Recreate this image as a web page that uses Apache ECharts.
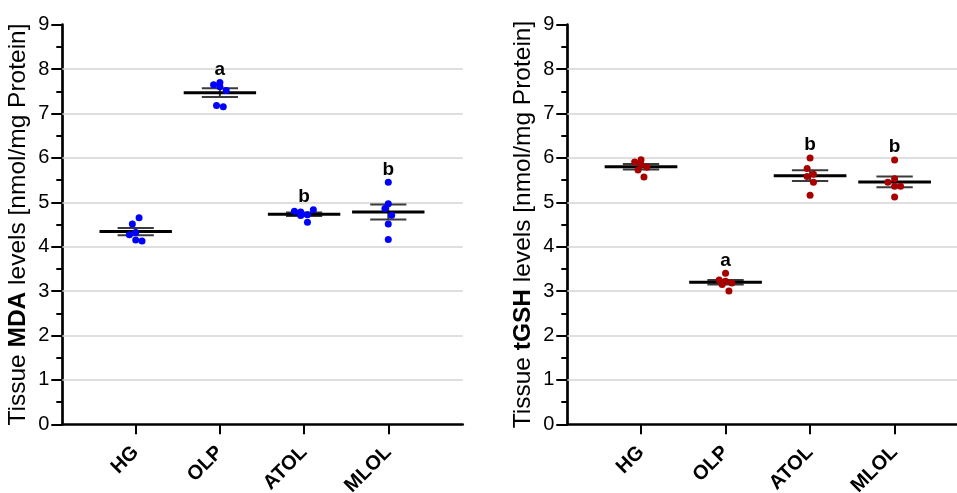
<!DOCTYPE html>
<html>
<head>
<meta charset="utf-8">
<script src="https://cdn.jsdelivr.net/npm/echarts@6/dist/echarts.min.js"></script>
<style>
  html, body { margin: 0; padding: 0; background: #fff; }
  #chart { width: 957px; height: 493px; }
</style>
</head>
<body>
<div id="chart"></div>
<script>
  const categories = ['HG', 'OLP', 'ATOL', 'MLOL']
  const yTicks = [1, 2, 3, 4, 5, 6, 7, 8]

  // MDA panel
  const mdaPoints = [
    [4.65, 4.51, 4.32, 4.27, 4.15, 4.13],
    [7.65, 7.70, 7.60, 7.52, 7.18, 7.15],
    [4.80, 4.78, 4.83, 4.70, 4.72, 4.55],
    [5.45, 4.97, 4.86, 4.71, 4.51, 4.16]
  ]
  const mdaJitter = [
    [0.04, -0.04, 0, -0.075, 0, 0.075],
    [-0.075, 0, 0, 0.075, -0.04, 0.04],
    [-0.115, -0.04, 0.11, -0.04, 0.04, 0.04],
    [0, 0, -0.04, 0.04, 0, 0]
  ]
  const mdaMean = [4.34, 7.47, 4.73, 4.78]
  const mdaSem = [0.08, 0.10, 0.04, 0.17]
  const mdaLetters = ['', 'a', 'b', 'b']

  // tGSH panel
  const gshPoints = [
    [5.91, 5.96, 5.85, 5.79, 5.73, 5.57],
    [3.40, 3.25, 3.22, 3.15, 3.18, 3.00],
    [6.00, 5.76, 5.63, 5.58, 5.45, 5.16],
    [5.95, 5.53, 5.45, 5.36, 5.36, 5.12]
  ]
  const gshJitter = [
    [-0.075, 0, 0, 0.07, -0.035, 0.035],
    [0, -0.075, 0, -0.04, 0.075, 0.04],
    [0, -0.035, 0.04, -0.035, 0.04, 0],
    [0, 0, -0.08, 0, 0.07, 0]
  ]
  const gshMean = [5.80, 3.20, 5.60, 5.46]
  const gshSem = [0.06, 0.05, 0.12, 0.12]
  const gshLetters = ['', 'a', 'b', 'b']

  const font = 'Liberation Sans, Arial, sans-serif'

  function xAxisFor(gridIndex, max) {
    return {
      type: 'value', gridIndex: gridIndex, min: -0.872, max: max,
      splitLine: { show: false },
      axisLine: { onZero: false, lineStyle: { color: '#000', width: 2.7 } },
      axisTick: { show: true, customValues: [0, 1, 2, 3], length: 10, lineStyle: { color: '#000', width: 2 } },
      axisLabel: {
        customValues: [0, 1, 2, 3], rotate: 45, margin: 25,
        formatter: v => categories[v],
        color: '#000', fontSize: 20, fontWeight: 'bold', fontFamily: font
      }
    }
  }

  function yAxisFor(gridIndex, label) {
    return {
      type: 'value', gridIndex: gridIndex, min: 0, max: 9, interval: 1,
      name: '{n|Tissue }{b|' + label + '}{n| levels [nmol/mg Protein]}',
      nameLocation: 'middle', nameGap: 32, nameRotate: 90,
      nameTextStyle: {
        rich: {
          n: { fontSize: 24.5, color: '#000', fontFamily: font },
          b: { fontSize: 24.5, color: '#000', fontWeight: 'bold', fontFamily: font }
        }
      },
      splitLine: { show: false },
      axisLine: { show: true, onZero: false, lineStyle: { color: '#000', width: 2.7 } },
      axisTick: { show: true, length: 11, lineStyle: { color: '#000', width: 2 } },
      minorTick: { show: true, splitNumber: 2, length: 6, lineStyle: { color: '#000', width: 2 } },
      axisLabel: { color: '#000', fontSize: 20, margin: 13, fontFamily: font }
    }
  }

  function renderMean(params, api) {
    const i = api.value(0)
    const m = api.value(1)
    const s = api.value(2)
    const c = api.coord([i, m])
    const hi = api.coord([i, m + s])
    const lo = api.coord([i, m - s])
    const unit = api.size([1, 0])[0]
    const mw = unit * 0.43
    const ww = unit * 0.215
    const whisker = { stroke: '#3a3a3a', lineWidth: 2 }
    return {
      type: 'group',
      children: [
        { type: 'line', shape: { x1: c[0] - ww, y1: hi[1], x2: c[0] + ww, y2: hi[1] }, style: whisker },
        { type: 'line', shape: { x1: c[0] - ww, y1: lo[1], x2: c[0] + ww, y2: lo[1] }, style: whisker },
        { type: 'line', shape: { x1: c[0], y1: hi[1], x2: c[0], y2: lo[1] }, style: whisker },
        { type: 'line', shape: { x1: c[0] - mw, y1: c[1], x2: c[0] + mw, y2: c[1] }, style: { stroke: '#000', lineWidth: 3 } }
      ]
    }
  }

  function panelSeries(idx, points, jitter, mean, sem, letters, color) {
    const pts = []
    points.forEach((arr, i) => arr.forEach((v, j) => pts.push([i + jitter[i][j], v])))
    return [
      {
        type: 'line', xAxisIndex: idx, yAxisIndex: idx, data: [], z: 1, silent: true,
        markLine: {
          silent: true, symbol: 'none', label: { show: false }, z: 1,
          lineStyle: { color: '#d4d4d4', width: 1.5, type: 'solid' },
          data: yTicks.map(t => ({ yAxis: t }))
        }
      },
      {
        type: 'custom', xAxisIndex: idx, yAxisIndex: idx, z: 3,
        renderItem: renderMean,
        data: mean.map((m, i) => [i, m, sem[i]])
      },
      {
        type: 'scatter', xAxisIndex: idx, yAxisIndex: idx, z: 10,
        symbolSize: 7, itemStyle: { color: color, opacity: 1 },
        data: pts
      },
      {
        type: 'scatter', xAxisIndex: idx, yAxisIndex: idx, z: 11, silent: true,
        symbolSize: 0, itemStyle: { color: '#000' },
        label: {
          show: true, position: 'top', distance: 3.5,
          formatter: p => p.value[2],
          color: '#000', opacity: 1, fontSize: 19, fontWeight: 'bold', fontFamily: font
        },
        data: letters.map((l, i) => [i, Math.max(...points[i]), l]).filter(d => d[2])
      }
    ]
  }

  const chart = echarts.init(document.getElementById('chart'))
  chart.setOption({
    animation: false,
    backgroundColor: '#fff',
    grid: [
      { left: 62.3, top: 24.7, width: 400.4, height: 399.6, outerBoundsMode: 'none' },
      { left: 567.3, top: 24.7, width: 400, height: 399.6, outerBoundsMode: 'none' }
    ],
    xAxis: [xAxisFor(0, 3.884), xAxisFor(1, 3.86)],
    yAxis: [yAxisFor(0, 'MDA'), yAxisFor(1, 'tGSH')],
    series: [
      ...panelSeries(0, mdaPoints, mdaJitter, mdaMean, mdaSem, mdaLetters, '#0000ff'),
      ...panelSeries(1, gshPoints, gshJitter, gshMean, gshSem, gshLetters, '#a80000')
    ]
  })
</script>
</body>
</html>
